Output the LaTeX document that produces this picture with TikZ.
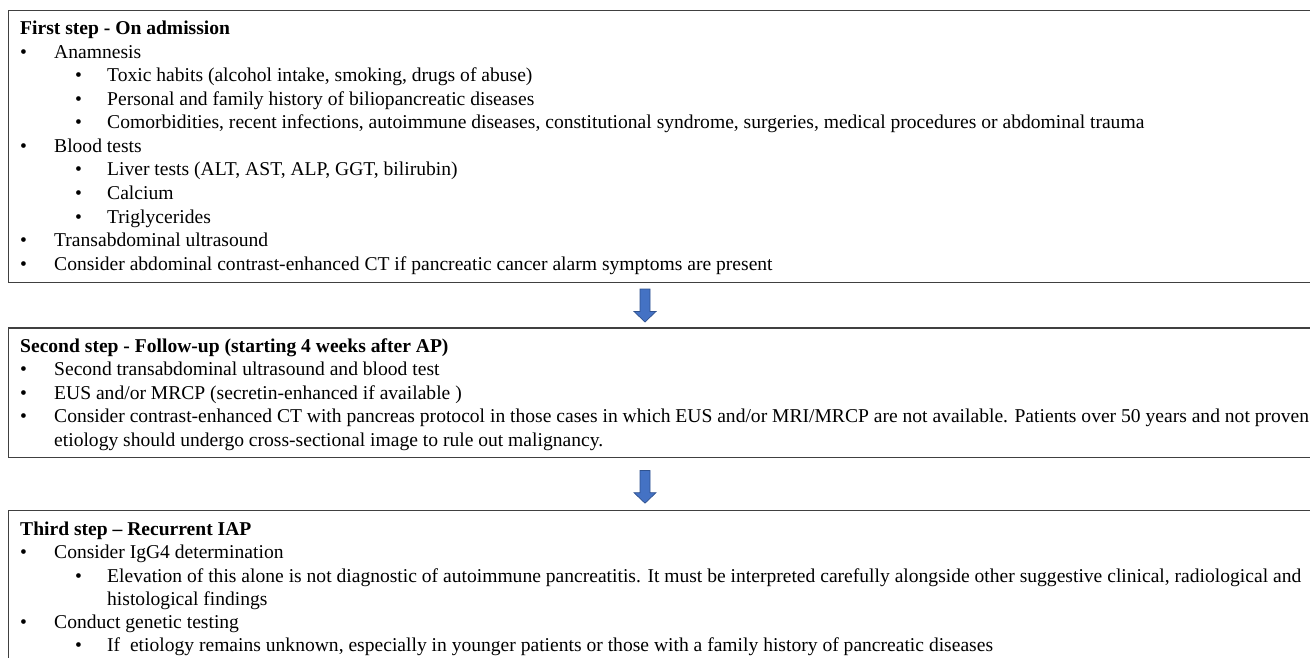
\documentclass[tikz,border=0pt]{standalone}
\usepackage{fontspec}
\setmainfont{Liberation Serif}
\definecolor{arrowblue}{HTML}{4472C4}
\definecolor{arrowedge}{HTML}{2F528F}
\definecolor{boxline}{HTML}{404040}
\begin{document}
\begin{tikzpicture}[x=1pt,y=-1pt,
  txt/.style={anchor=base west, inner sep=0pt, font=\fontsize{19.57}{23}\selectfont},
  hd/.style={txt, font=\fontsize{19.57}{23}\selectfont\bfseries},
  box/.style={draw=boxline, line width=1.2pt, anchor=north west, inner sep=0pt},
  blockarrow/.style={fill=arrowblue, draw=arrowedge, line width=0.7pt, line join=miter}]
\useasboundingbox (0,0) rectangle (1310,658);
% boxes
\node[box, minimum width=1330pt, minimum height=272pt] (box1) at (8,10) {};
\node[box, minimum width=1330pt, minimum height=129.5pt] (box2) at (8,327.3) {};
\node[box, minimum width=1330pt, minimum height=200pt] (box3) at (8,509.5) {};
% arrows
\coordinate (a1) at (645,289);
\coordinate (a2) at (645,470.5);
\draw[blockarrow] ([xshift=-5pt]a1) -- ++(0,22.5) -- ++(-6,0) -- ++(11,10.5) -- ++(11,-10.5) -- ++(-6,0) -- ++(0,-22.5) -- cycle;
\draw[blockarrow] ([xshift=-5pt]a2) -- ++(0,22.2) -- ++(-6,0) -- ++(11,10.5) -- ++(11,-10.5) -- ++(-6,0) -- ++(0,-22.2) -- cycle;
% box 1
\node[hd] (h1) at (20,35) {First step - On admission};
\node[txt] (b11) at (20,58.5) {•};   \node[txt] (t11) at (54,58.5) {Anamnesis};
\node[txt] (b12) at (75,82) {•};     \node[txt] (t12) at (107,82) {Toxic habits (alcohol intake, smoking, drugs of abuse)};
\node[txt] (b13) at (75,105.5) {•};  \node[txt] (t13) at (107,105.5) {Personal and family history of biliopancreatic diseases};
\node[txt] (b14) at (75,129) {•};    \node[txt] (t14) at (107,129) {Comorbidities, recent infections, autoimmune diseases, constitutional syndrome, surgeries, medical procedures or abdominal trauma};
\node[txt] (b15) at (20,152.5) {•};  \node[txt] (t15) at (54,152.5) {Blood tests};
\node[txt] (b16) at (75,176) {•};    \node[txt] (t16) at (107,176) {Liver tests (ALT, AST, ALP, GGT, bilirubin)};
\node[txt] (b17) at (75,199.5) {•};  \node[txt] (t17) at (107,199.5) {Calcium};
\node[txt] (b18) at (75,223) {•};    \node[txt] (t18) at (107,223) {Triglycerides};
\node[txt] (b19) at (20,246.5) {•};  \node[txt] (t19) at (54,246.5) {Transabdominal ultrasound};
\node[txt] (b110) at (20,270) {•};   \node[txt] (t110) at (54,270) {Consider abdominal contrast-enhanced CT if pancreatic cancer alarm symptoms are present};
% box 2
\node[hd] (h2) at (20,352) {Second step - Follow-up (starting 4 weeks after AP)};
\node[txt] (b21) at (20,375.5) {•};  \node[txt] (t21) at (54,375.5) {Second transabdominal ultrasound and blood test};
\node[txt] (b22) at (20,399) {•};    \node[txt] (t22) at (54,399) {EUS and/or MRCP (secretin-enhanced if available )};
\node[txt] (b23) at (20,422.5) {•};  \node[txt] (t23) at (54,422.5) {Consider contrast-enhanced CT with pancreas protocol in those cases in which EUS and/or MRI/MRCP are not available. Patients over 50 years and not proven};
\node[txt] (t24) at (54,446) {etiology should undergo cross-sectional image to rule out malignancy.};
% box 3
\node[hd] (h3) at (20,535) {Third step – Recurrent IAP};
\node[txt] (b31) at (20,558.5) {•};  \node[txt] (t31) at (54,558.5) {Consider IgG4 determination};
\node[txt] (b32) at (75,582) {•};    \node[txt] (t32) at (107,582) {Elevation of this alone is not diagnostic of autoimmune pancreatitis. It must be interpreted carefully alongside other suggestive clinical, radiological and};
\node[txt] (t33) at (107,605) {histological findings};
\node[txt] (b34) at (20,628) {•};    \node[txt] (t34) at (54,628) {Conduct genetic testing};
\node[txt] (b35) at (75,651) {•};    \node[txt] (t35) at (107,651) {If\ \ etiology remains unknown, especially in younger patients or those with a family history of pancreatic diseases};
\end{tikzpicture}
\end{document}
